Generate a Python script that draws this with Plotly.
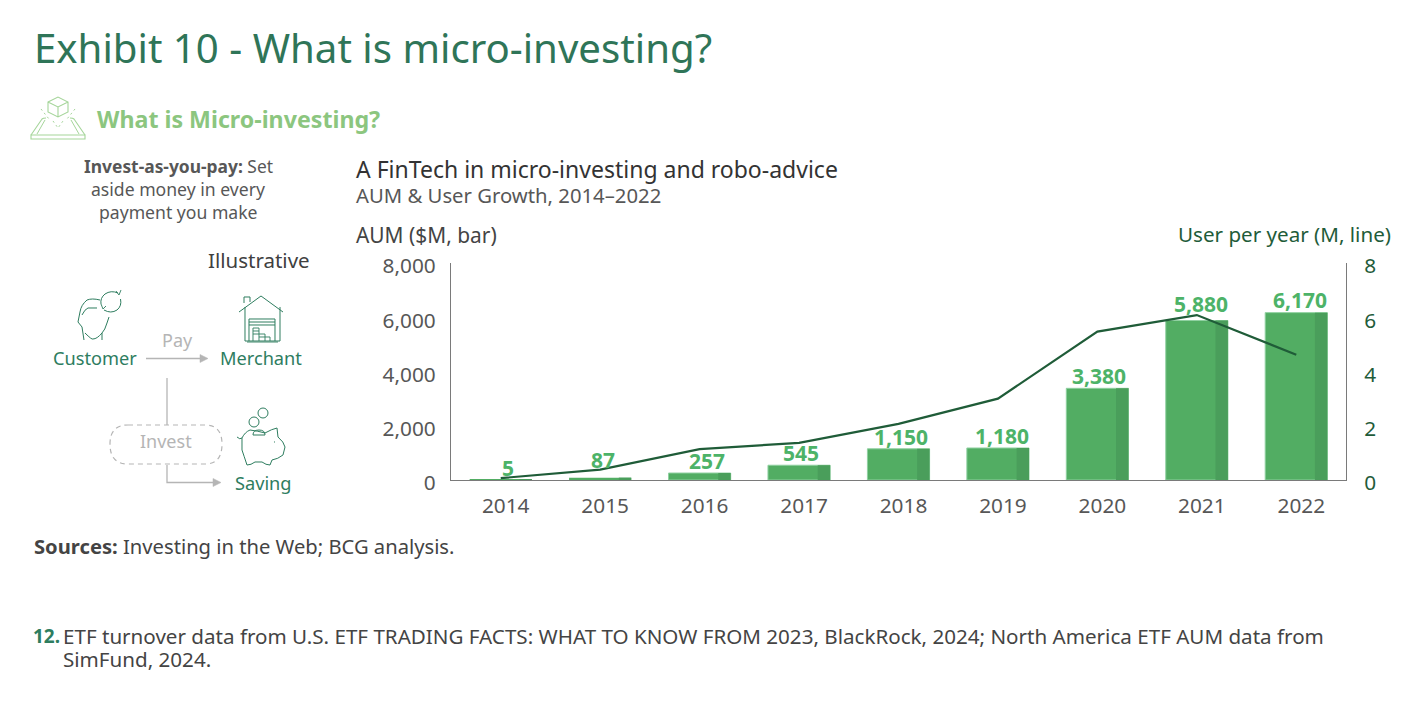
import re
import plotly.graph_objects as go

years = ["2014", "2015", "2016", "2017", "2018", "2019", "2020", "2021", "2022"]
aum = [5, 87, 257, 545, 1150, 1180, 3380, 5880, 6170]
users = [0.07, 0.38, 1.14, 1.37, 2.07, 3.0, 5.47, 6.08, 4.62]
aum_ticks = [0, 2000, 4000, 6000, 8000]
user_ticks = [0, 2, 4, 6, 8]
label_lift = [12, 18, 12, 12, 12, 12, 12, 17, 13]
label_nudge = [7, 3, 7, 2, 2, 4, 2, 4, 4]

FONT = "Noto Sans"
W, H = 1416, 702
L, R, T, B = 451, 1346, 263, 480


def fx(x):
    return (x - L) / (R - L)


def fy(y):
    return (B - y) / (B - T)


def path(d):
    toks = re.findall(r"[A-Za-z]|-?\d+\.?\d*", d)
    out, isx = [], True
    for t in toks:
        if t.isalpha():
            out.append(t)
            isx = True
        else:
            out.append(f"{fx(float(t)):.5f}" if isx else f"{fy(float(t)):.5f}")
            isx = not isx
    return " ".join(out)


shapes = []


def draw(d, color, width=1.0, dash=None, fill=None):
    shapes.append(dict(type="path", xref="paper", yref="paper", path=path(d),
                       line=dict(color=color, width=width, dash=dash or "solid"),
                       fillcolor=fill or "rgba(0,0,0,0)", layer="above"))


def ring(cx, cy, r, color, width=1.0):
    shapes.append(dict(type="circle", xref="paper", yref="paper",
                       x0=fx(cx - r), x1=fx(cx + r), y0=fy(cy + r), y1=fy(cy - r),
                       line=dict(color=color, width=width), layer="above"))


annots = []


def text(x, y, s, size, color, anchor="left"):
    dx = {"left": -2, "right": 2, "center": 0}[anchor]
    annots.append(dict(xref="paper", yref="paper", x=fx(x + dx), y=fy(y), text=s, showarrow=False,
                       xanchor=anchor, yanchor="middle", align=anchor,
                       font=dict(family=FONT, size=size, color=color)))


TEAL = "#2E7D5F"
LIGHT = "#8CC67F"
ICON = "#A5D59A"
GRAY = "#B5B5B5"
TXT = "#575757"
DARK = "#1F5C3A"

text(34, 47, "Exhibit 10 - What is micro-investing?", 40.2, "#2F7558")
text(97, 119, "<b>What is Micro-investing?</b>", 23.2, LIGHT)
text(178, 166, "<b>Invest-as-you-pay:</b> Set", 17.4, TXT, "center")
text(178, 189, "aside money in every", 17.6, TXT, "center")
text(178, 212, "payment you make", 17.6, TXT, "center")
text(310, 260, "Illustrative", 20.5, "#404040", "right")
text(95, 358, "Customer", 18.2, TEAL, "center")
text(261, 358, "Merchant", 18.2, TEAL, "center")
text(263, 483, "Saving", 18.2, TEAL, "center")
text(177, 340, "Pay", 18, GRAY, "center")
text(166, 441, "Invest", 18, GRAY, "center")
text(356, 169, "A FinTech in micro-investing and robo-advice", 23, "#333333")
text(356, 195, "AUM &amp; User Growth, 2014–2022", 20.3, TXT)
text(356, 235, "AUM ($M, bar)", 20.9, "#444444")
text(1391, 234, "User per year (M, line)", 20.6, DARK, "right")
text(34, 546, "<b>Sources:</b> Investing in the Web; BCG analysis.", 20.2, "#444444")
text(33, 636, "<b>12.</b>", 19, TEAL)
text(63, 636, "ETF turnover data from U.S. ETF TRADING FACTS: WHAT TO KNOW FROM 2023, BlackRock, 2024; North America ETF AUM data from", 20.6, "#444444")
text(63, 659, "SimFund, 2024.", 20.6, "#444444")

# flow arrows
draw("M 146 358.5 L 200 358.5", GRAY, 1.3)
draw("M 200 354.5 L 208 358.5 L 200 362.5 Z", GRAY, 0.5, fill=GRAY)
draw("M 167 378 L 167 425", GRAY, 1.3)
draw("M 167 465 L 167 482.5 L 213 482.5", GRAY, 1.3)
draw("M 213 478.5 L 221 482.5 L 213 486.5 Z", GRAY, 0.5, fill=GRAY)
draw("M 128 425 L 205 425 Q 222 425 222 444 Q 222 464 205 464 L 128 464 Q 110 464 110 444 Q 110 425 128 425 Z",
     GRAY, 1.2, dash="5px,4px")

# cube / device icon
draw("M 48 102 L 58 97 L 68 102 L 68 112 L 58 117 L 48 112 Z M 48 102 L 58 107 L 68 102 M 58 107 L 58 117", ICON, 1.1)
draw("M 41 109 L 49 119 M 75 109 L 67 119 M 53 121 L 58 128 L 63 121", ICON, 1, dash="2px,3px")
draw("M 31 135 L 42 119 Q 43 118 46 118 M 85 135 L 74 119 Q 73 118 70 118", ICON, 1.1)
draw("M 37 134 L 45 120 M 79 134 L 71 120", ICON, 1)
draw("M 31 135 L 85 135 L 85 139 L 31 139 Z", ICON, 1.1)

# customer icon
draw("M 100 300 Q 92 298 87 300 Q 81 305 80 312 L 78 322 L 82 327 L 84 340", TEAL, 1)
draw("M 82 315 Q 85 309 88 308 L 97 308", TEAL, 1)
draw("M 85 333 Q 92 340 93 339 Q 97 339 102 333 Q 105 330 107 323 L 109 317 M 102 333 L 102 340", TEAL, 1)
draw("M 118 293 Q 111 290 105 294 Q 100 298 101 304 M 120.5 299 Q 122 306 117 310 Q 111 314 104 310", TEAL, 1)
draw("M 116 291 L 119 295 L 121 290 M 101 304 L 103 309 L 106 306", TEAL, 0.9)

# house icon
draw("M 239 312 L 261 296 L 283 312 M 245 307 L 245 341 L 280 341 L 280 307 "
     "M 244 303 L 244 297 L 250 297 L 250 302", TEAL, 1)
draw("M 249 341 L 249 319 L 275 319 L 275 341 M 249 322 L 275 322 M 249 325 L 275 325", TEAL, 1)
draw("M 253 341 L 253 328 L 259 328 L 259 341 M 253 334 L 265 334 L 265 341 M 259 337 L 270 337 L 270 341 "
     "M 253 331 L 259 331 M 247 342 L 278 342", TEAL, 0.9)

# piggy icon
draw("M 237 437 Q 240 440 242 438 Q 245 432 250 430 Q 258 431 265 433 Q 272 429 277 428 L 278 437 "
     "Q 284 442 285 447 L 283 455 Q 278 459 272 460 L 270 465 Q 266 465 262 462 L 255 462 "
     "Q 251 465 247 465 Q 244 456 242 450 L 242 438", TEAL, 1)
draw("M 253 435 Q 253 430 259 430 Q 265 430 265 435 Z", TEAL, 1)
draw("M 274 442 L 275 442", TEAL, 1)
ring(254, 422, 5, TEAL)
ring(263, 413, 5, TEAL)

fig = go.Figure()
fig.add_bar(x=years, y=aum, width=0.625,
            marker=dict(color="#52AD63",
                        line=dict(color="#8FD0A0", width=[0, 0, 1, 1, 1, 1, 1, 1, 1])),
            showlegend=False)
fig.add_bar(x=years, y=aum, width=0.125, offset=0.1875,
            marker=dict(color="#4A9E5B", line=dict(width=0)), showlegend=False)
fig.add_scatter(x=years, y=users, yaxis="y2", mode="lines",
                line=dict(color="#1F5C38", width=2.2), showlegend=False)

for i, (v, lift, nudge) in enumerate(zip(aum, label_lift, label_nudge)):
    annots.append(dict(x=i, y=v, xref="x", yref="y", text=f"<b>{v:,}</b>", showarrow=False,
                       yanchor="middle", yshift=lift, xshift=nudge,
                       font=dict(family=FONT, size=21, color="#4DB368")))

AXIS = "#7A7A7A"
fig.update_layout(
    width=W, height=H, autosize=False, barmode="overlay",
    margin=dict(l=L, r=W - R, t=T, b=H - B, pad=0),
    paper_bgcolor="white", plot_bgcolor="white",
    font=dict(family=FONT),
    xaxis=dict(type="category", categoryorder="array", categoryarray=years,
               range=[-0.5, len(years) - 0.5], showgrid=False, showline=True, linecolor=AXIS, linewidth=1.2,
               tickfont=dict(size=20.8, color=TXT, family=FONT), ticks="", ticklabelstandoff=7,
               ticklabelshift=5, zeroline=False),
    yaxis=dict(range=[0, 8000], tickvals=aum_ticks, tickformat=",", showgrid=False, showline=True,
               linecolor=AXIS, linewidth=1.2, zeroline=False, ticks="", ticklabelstandoff=10,
               ticklabelshift=3,
               tickfont=dict(size=20.8, color=TXT, family=FONT)),
    yaxis2=dict(range=[0, 8], tickvals=user_ticks, overlaying="y", side="right", showgrid=False,
                showline=True, linecolor=AXIS, linewidth=1.2, zeroline=False, ticks="", ticklabelstandoff=13,
                ticklabelshift=3,
                tickfont=dict(size=20.8, color=DARK, family=FONT)),
    shapes=shapes, annotations=annots, hovermode=False,
)
fig.write_html("out.html", config={"displayModeBar": False},
               post_script="document.body.style.margin='0';")
